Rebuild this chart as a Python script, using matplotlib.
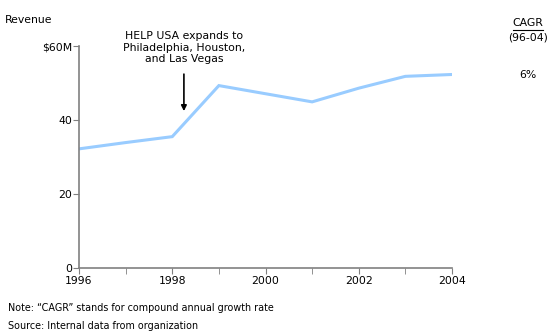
import matplotlib
matplotlib.use("Agg")
import matplotlib.pyplot as plt
from matplotlib.lines import Line2D

years = [1996, 1997, 1998, 1999, 2000, 2001, 2002, 2003, 2004]
revenue = [32.2, 33.9, 35.5, 49.3, 47.1, 44.9, 48.6, 51.8, 52.3]
y_ticks = [0, 20, 40, 60]
y_labels = ["0", "20", "40", "$60M"]
x_ticks = [1996, 1998, 2000, 2002, 2004]
x_minor = [1997, 1999, 2001, 2003]
annotation = "HELP USA expands to\nPhiladelphia, Houston,\nand Las Vegas"
annot_year = 1998.25
cagr = "6%"

plt.rcParams['font.family'] = ['DejaVu Sans']
fs = 7.8
W, H = 560, 335
fig = plt.figure(figsize=(W/100, H/100), dpi=100)
ax = fig.add_axes([79/W, 1-268/H, 373/W, 222/H])
ax.plot(years, revenue, color="#99ccff", lw=2.2, solid_joinstyle='miter')
ax.set_xlim(1996, 2004)
ax.set_ylim(0, 60)
ax.set_xticks(x_ticks)
ax.set_xticks(x_minor, minor=True)
ax.set_yticks(y_ticks)
ax.set_yticklabels(y_labels)
for s in ['top', 'right']:
    ax.spines[s].set_visible(False)
for s in ['left', 'bottom']:
    ax.spines[s].set_color("#808080")
    ax.spines[s].set_linewidth(1.2)
ax.tick_params(axis='both', which='both', direction='out', color="#808080", labelsize=fs, labelcolor='black')
ax.tick_params(axis='y', length=4, pad=1)
ax.tick_params(axis='x', which='major', length=4, pad=2)
ax.tick_params(axis='x', which='minor', length=4)

fig.text(5/W, 1-20/H, "Revenue", fontsize=fs, ha='left', va='center')
fig.text(184/W, 1-31/H, annotation, fontsize=fs, ha='center', va='top', linespacing=1.2)
ax.annotate("", xy=(annot_year, 42.4), xytext=(annot_year, 52.4), textcoords='data',
            annotation_clip=False,
            arrowprops=dict(arrowstyle='-|>', color='black', lw=1.2, mutation_scale=8,
                            shrinkA=0, shrinkB=0))
fig.text(528/W, 1-23/H, "CAGR", fontsize=fs, ha='center', va='center')
fig.add_artist(Line2D([513/W, 543/W], [1-29.5/H, 1-29.5/H], color='black', lw=0.8))
fig.text(528/W, 1-37/H, "(96-04)", fontsize=fs, ha='center', va='center')
fig.text(528/W, 1-75/H, cagr, fontsize=fs, ha='center', va='center')
fig.text(8/W, 1-308/H, "Note: \u201cCAGR\u201d stands for compound annual growth rate", fontsize=6.9, ha='left', va='center')
fig.text(8/W, 1-326/H, "Source: Internal data from organization", fontsize=6.9, ha='left', va='center')
fig.savefig("out.png", dpi=100)
